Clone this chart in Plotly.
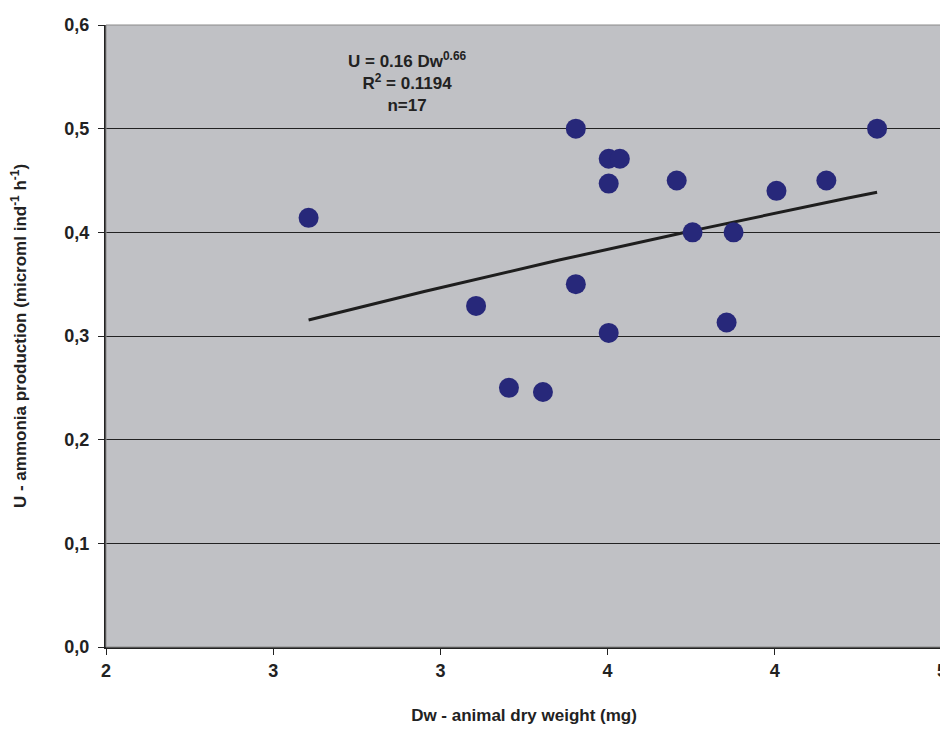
import numpy as np
import plotly.graph_objects as go

# Data
dry_weight = [2.727, 3.328, 3.446, 3.568, 3.686, 3.686, 3.804, 3.844, 3.804, 3.804,
              4.048, 4.105, 4.227, 4.252, 4.406, 4.585, 4.767]
ammonia = [0.414, 0.329, 0.250, 0.246, 0.500, 0.350, 0.471, 0.471, 0.447, 0.303,
           0.450, 0.400, 0.313, 0.400, 0.440, 0.450, 0.500]

x_tickvals = [2, 2.6, 3.2, 3.8, 4.4, 5]
x_ticktext = ["2", "3", "3", "4", "4", "5"]
y_tickvals = [0, 0.1, 0.2, 0.3, 0.4, 0.5, 0.6]

# Power trendline (log-log least squares fit, as a spreadsheet does)
b, ln_a = np.polyfit(np.log(dry_weight), np.log(ammonia), 1)
a = np.exp(ln_a)
tx = np.linspace(min(dry_weight), max(dry_weight), 60)
ty = a * tx ** b

font_family = "Liberation Sans, Arial, sans-serif"

fig = go.Figure()
fig.add_trace(go.Scatter(
    x=tx, y=ty, mode="lines",
    line=dict(color="#1e1e1e", width=3),
    hoverinfo="skip", showlegend=False,
))
fig.add_trace(go.Scatter(
    x=dry_weight, y=ammonia, mode="markers",
    marker=dict(color="#27287a", size=20, line=dict(width=0)),
    showlegend=False,
))

fig.add_annotation(
    x=0.36, y=0.965, xref="paper", yref="paper",
    text="<b>U = 0.16 Dw<sup>0.66</sup><br>R<sup>2</sup> = 0.1194<br>n=17</b>",
    showarrow=False, align="center",
    font=dict(family=font_family, size=17, color="#222222"),
)

# The page body adds an 8 px offset; figure size/margins compensate for it
fig.update_layout(
    width=940, height=717,
    margin=dict(l=98, r=6, t=17, b=78, autoexpand=False),
    paper_bgcolor="white",
    plot_bgcolor="#c0c1c5",
    separators=",.",
    font=dict(family=font_family, size=16, color="#222222"),
    shapes=[dict(type="rect", xref="paper", yref="paper", x0=0, x1=1, y0=0, y1=1,
                 line=dict(color="#8a8a8a", width=1), layer="above")],
)
fig.update_xaxes(
    range=[2, 5], tickvals=x_tickvals, ticktext=x_ticktext,
    showgrid=False, zeroline=False, automargin=False, ticklabeloverflow="allow",
    showline=True, linecolor="#222222", linewidth=2,
    ticks="outside", ticklen=6, tickcolor="#222222", tickwidth=1,
    tickfont=dict(family=font_family, size=18, color="#222222", weight="bold"),
    title=dict(text="<b>Dw - animal dry weight (mg)</b>", standoff=40,
               font=dict(family=font_family, size=17, color="#222222")),
)
fig.update_yaxes(
    range=[0, 0.6], tickvals=y_tickvals, tickformat=".1f",
    showgrid=True, gridcolor="#222222", gridwidth=1, zeroline=False, automargin=False,
    showline=True, linecolor="#222222", linewidth=2,
    ticks="outside", ticklen=6, tickcolor="#222222", tickwidth=1, ticklabelstandoff=5,
    tickfont=dict(family=font_family, size=18, color="#222222", weight="bold"),
    title=dict(text="<b>U - ammonia production (microml ind<sup>-1</sup> h<sup>-1</sup>)</b>",
               standoff=38, font=dict(family=font_family, size=17, color="#222222")),
)

fig.write_html("out.html")
